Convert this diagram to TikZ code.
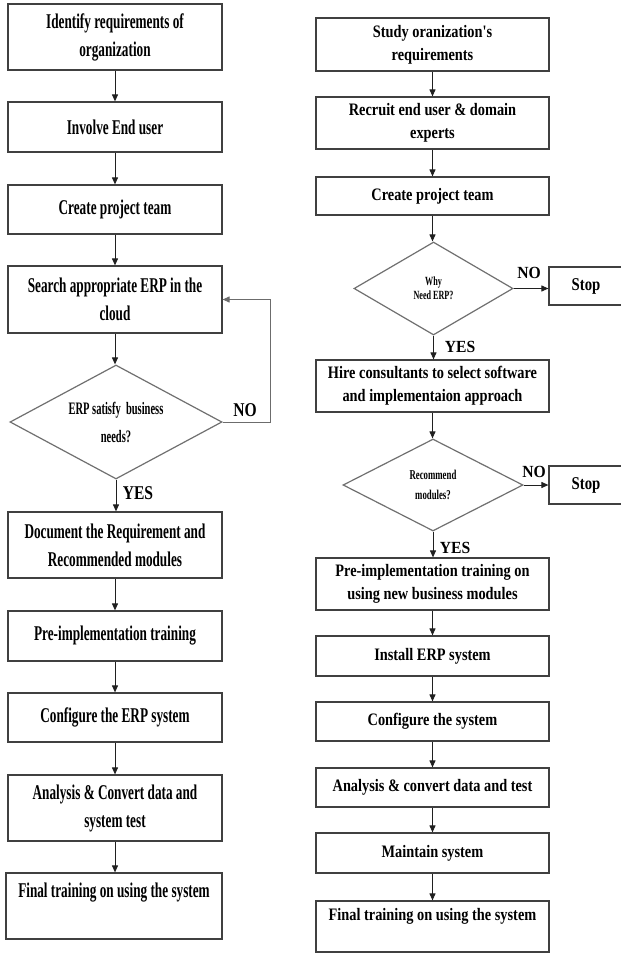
\documentclass[tikz,border=0pt]{standalone}
\usepackage{fontspec}
\setmainfont{Liberation Serif}
\newfontfamily\lfont{Liberation Serif}[FakeStretch=0.63]
\newfontfamily\dfont{Liberation Serif}[FakeStretch=0.6]
\newfontfamily\rfont{Liberation Serif}[FakeStretch=0.82]
\newfontfamily\rdfont{Liberation Serif}[FakeStretch=0.65]
\newfontfamily\yfont{Liberation Serif}[FakeStretch=0.8]
\newfontfamily\ryfont{Liberation Serif}[FakeStretch=0.92]
\usetikzlibrary{arrows.meta,shapes.geometric}
\definecolor{boxc}{HTML}{404040}
\definecolor{diac}{HTML}{707070}
\definecolor{linec}{HTML}{202020}
\tikzset{
  x=1pt,y=-1pt,
  lbox/.style={draw=boxc, line width=1.2pt, minimum width=214pt, align=center, inner sep=0pt,
    font=\lfont\bfseries\fontsize{21}{28}\selectfont},
  rbox/.style={draw=boxc, line width=1.2pt, minimum width=233pt, align=center, inner sep=0pt,
    font=\rfont\bfseries\fontsize{17.5}{23}\selectfont},
  ldia/.style={draw=diac, line width=1.2pt, shape=diamond, aspect=1.86, inner sep=0pt, align=center,
    font=\dfont\bfseries\fontsize{17.5}{28}\selectfont},
  rdia/.style={draw=diac, line width=1.2pt, shape=diamond, aspect=1.75, inner sep=0pt, align=center},
  stopbox/.style={draw=boxc, line width=1.2pt, minimum width=74pt, minimum height=38pt, inner sep=0pt,
    font=\rfont\bfseries\fontsize{18}{22}\selectfont},
  lyn/.style={inner sep=0pt, font=\yfont\bfseries\fontsize{19.5}{22}\selectfont},
  ryn/.style={inner sep=0pt, font=\ryfont\bfseries\fontsize{17}{20}\selectfont},
  arr/.style={draw=linec, line width=1pt, -{Triangle[length=7pt,width=6pt]}},
}
\begin{document}
\begin{tikzpicture}
\useasboundingbox (0,0) rectangle (621,953);
\clip (0,0) rectangle (621,953);
\fill[white] (0,0) rectangle (621,953);
% ---------------- left column ----------------
\node[lbox, minimum height=66pt] (L1) at (115,37) {Identify requirements of\\organization};
\node[lbox, minimum height=50pt] (L2) at (115,127) {Involve End user};
\node[lbox, minimum height=49pt] (L3) at (115,209.5) {Create project team};
\node[lbox, minimum height=67pt] (L4) at (115,299.5) {Search appropriate ERP in the\\cloud};
\node[ldia, minimum width=212pt, minimum height=114pt] (LD) at (116,422) {ERP satisfy\ \ business\\needs?};
\node[lbox, minimum height=66pt] (L5) at (115,545) {Document\ the Requirement and\\Recommended modules};
\node[lbox, minimum height=50pt] (L6) at (115,636) {Pre-implementation training};
\node[lbox, minimum height=49pt] (L7) at (115,717.5) {Configure the ERP system};
\node[lbox, minimum height=66pt] (L8) at (115,808) {Analysis \&\ Convert data and\\system test};
\node[lbox, minimum width=216pt, minimum height=66pt] (L9) at (114,906) {Final training on using the system\\[4pt]~};
\coordinate (LC) at (270,422);
\draw[arr] (L1) -- (L2);
\draw[arr] (L2) -- (L3);
\draw[arr] (L3) -- (L4);
\draw[arr] (L4.south) -- (L4.south |- LD.north);
\draw[arr] (LD.south) -- (LD.south |- L5.north);
\draw[arr] (L5) -- (L6);
\draw[arr] (L6) -- (L7);
\draw[arr] (L7) -- (L8);
\draw[arr] (L8.south) -- (L8.south |- L9.north);
\draw[arr, draw=gray!85!black] (LD.east) -- (LC) |- (L4.east);
\node[lyn] (LNO) at (245,410) {NO};
\node[lyn] (LYES) at (138,493) {YES};
% ---------------- right column ----------------
\node[rbox, minimum height=53pt] (R1) at (432.5,44.5) {Study oranization's\\requirements};
\node[rbox, minimum height=52pt] (R2) at (432.5,123) {Recruit end user \& domain\\experts};
\node[rbox, minimum height=38pt] (R3) at (432.5,196) {Create project team};
\node[rdia, minimum width=159pt, minimum height=93pt, font=\rdfont\bfseries\fontsize{12.5}{14}\selectfont] (RD1) at (433.5,288.5) {Why\\Need ERP?};
\node[stopbox] (S1) at (586,286) {Stop};
\node[rbox, minimum height=52pt] (R4) at (432.5,386) {Hire consultants to select software\\and implementaion approach};
\node[rdia, minimum width=180pt, minimum height=92pt, font=\rdfont\bfseries\fontsize{13.5}{20}\selectfont] (RD2) at (433,485) {Recommend\\modules?};
\node[stopbox] (S2) at (586,485) {Stop};
\node[rbox, minimum height=52pt] (R5) at (432.5,584) {Pre-implementation training on\\using new business modules};
\node[rbox, minimum height=40pt] (R6) at (432.5,656) {Install ERP system};
\node[rbox, minimum height=39pt] (R7) at (432.5,721.5) {Configure the system};
\node[rbox, minimum height=39pt] (R8) at (432.5,787.5) {Analysis \& convert data and test};
\node[rbox, minimum height=40pt] (R9) at (432.5,853) {Maintain system};
\node[rbox, minimum height=51pt] (R10) at (432.5,926.5) {Final training on using the system\\[2pt]~};
\draw[arr] (R1) -- (R2);
\draw[arr] (R2) -- (R3);
\draw[arr] (R3.south) -- (R3.south |- RD1.north);
\draw[arr] (RD1.south) -- (RD1.south |- R4.north);
\draw[arr] (RD1.east) -- (RD1.east -| S1.west);
\draw[arr] (R4.south) -- (R4.south |- RD2.north);
\draw[arr] (RD2.south) -- (RD2.south |- R5.north);
\draw[arr] (RD2.east) -- (RD2.east -| S2.west);
\draw[arr] (R5) -- (R6);
\draw[arr] (R6) -- (R7);
\draw[arr] (R7) -- (R8);
\draw[arr] (R8) -- (R9);
\draw[arr] (R9) -- (R10);
\node[ryn] (RNO1) at (529,273) {NO};
\node[ryn] (RYES1) at (460,347) {YES};
\node[ryn] (RNO2) at (534,472) {NO};
\node[ryn] (RYES2) at (455,548) {YES};
\end{tikzpicture}
\end{document}
